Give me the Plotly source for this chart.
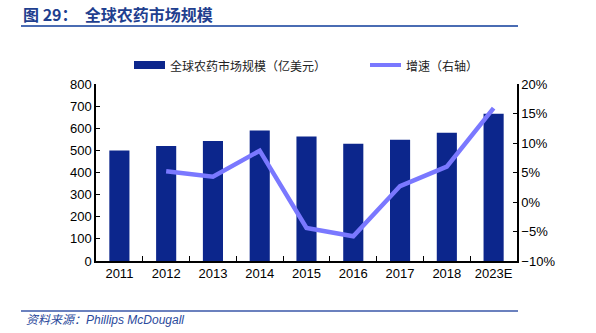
import plotly.graph_objects as go

categories = ["2011", "2012", "2013", "2014", "2015", "2016", "2017", "2018", "2023E"]
market_size = [500, 520, 542, 590, 563, 530, 548, 580, 665]
growth_cats = ["2012", "2013", "2014", "2015", "2016", "2017", "2018", "2023E"]
growth_rate = [0.052, 0.043, 0.087, -0.044, -0.058, 0.027, 0.060, 0.159]

bar_name = "全球农药市场规模（亿美元）"
line_name = "增速（右轴）"
title_text = "图 29：&nbsp;&nbsp;全球农药市场规模"
source_text = "资料来源：Phillips McDougall"

BAR_COLOR = "#0c268c"
LINE_COLOR = "#7a78ff"
TITLE_COLOR = "#1f3f8f"
FONT = "Liberation Sans, Arial, Noto Sans CJK SC, sans-serif"
CJK = "Noto Sans CJK SC, sans-serif"

fig = go.Figure()
fig.add_trace(go.Bar(x=categories, y=market_size, name=bar_name,
                     marker=dict(color=BAR_COLOR, line=dict(width=0)),
                     showlegend=False))
fig.add_trace(go.Scatter(x=growth_cats, y=growth_rate, name=line_name, yaxis="y2",
                         mode="lines", line=dict(color=LINE_COLOR, width=4.5),
                         showlegend=False))

fig.update_layout(
    width=596, height=333,
    margin=dict(l=96, r=79, t=84, b=72),
    paper_bgcolor="white", plot_bgcolor="white",
    bargap=0.57,
    font=dict(family=FONT, size=13, color="#000000"),
    xaxis=dict(type="category", categoryorder="array", categoryarray=categories,
               showline=True, linecolor="#000", linewidth=1.5,
               ticks="inside", tickson="boundaries", ticklen=5, tickcolor="#000",
               showgrid=False, tickfont=dict(size=13), tickangle=0, range=[-0.5, 8.5]),
    yaxis=dict(range=[0, 800], dtick=100, showline=True, linecolor="#000", linewidth=1.5,
               ticks="inside", ticklen=4, tickcolor="#000", showgrid=False, zeroline=False,
               tickfont=dict(size=13)),
    yaxis2=dict(range=[-0.10, 0.20], dtick=0.05, tickformat=".0%", overlaying="y", side="right",
                showline=True, linecolor="#000", linewidth=1.5, ticks="inside", ticklen=4,
                tickcolor="#000", showgrid=False, zeroline=False, tickfont=dict(size=13)),
    showlegend=False,
)

# manual legend
fig.add_shape(type="rect", xref="paper", yref="paper",
              x0=(134 - 96) / 421, x1=(165 - 96) / 421,
              y0=(261 - 69) / 177, y1=(261 - 61) / 177,
              fillcolor=BAR_COLOR, line=dict(width=0))
fig.add_annotation(xref="paper", yref="paper", x=(168 - 96) / 421, y=(261 - 65) / 177,
                   text=bar_name, showarrow=False, xanchor="left", yanchor="middle",
                   font=dict(family=CJK, size=12, color="#222"))
fig.add_shape(type="line", xref="paper", yref="paper",
              x0=(370 - 96) / 421, x1=(401 - 96) / 421,
              y0=(261 - 65) / 177, y1=(261 - 65) / 177,
              line=dict(color=LINE_COLOR, width=4))
fig.add_annotation(xref="paper", yref="paper", x=(404 - 96) / 421, y=(261 - 65) / 177,
                   text=line_name, showarrow=False, xanchor="left", yanchor="middle",
                   font=dict(family=CJK, size=12, color="#222"))

# title and rules
fig.add_annotation(xref="paper", yref="paper", x=(21 - 96) / 421, y=(261 - 14) / 177,
                   text="<b>" + title_text + "</b>", showarrow=False, xanchor="left",
                   yanchor="middle", font=dict(family=CJK, size=16, color=TITLE_COLOR))
fig.add_shape(type="line", xref="paper", yref="paper",
              x0=(21 - 96) / 421, x1=(518 - 96) / 421,
              y0=(261 - 26) / 177, y1=(261 - 26) / 177,
              line=dict(color="#4a6cb3", width=2))
fig.add_shape(type="line", xref="paper", yref="paper",
              x0=(21 - 96) / 421, x1=(518 - 96) / 421,
              y0=(261 - 311) / 177, y1=(261 - 311) / 177,
              line=dict(color="#3a57a8", width=1.5))
fig.add_annotation(xref="paper", yref="paper", x=(24 - 96) / 421, y=(261 - 320) / 177,
                   text="<i>" + source_text + "</i>", showarrow=False, xanchor="left",
                   yanchor="middle", font=dict(family=FONT, size=12, color="#2b4a9c"))

fig.write_html("out.html")
